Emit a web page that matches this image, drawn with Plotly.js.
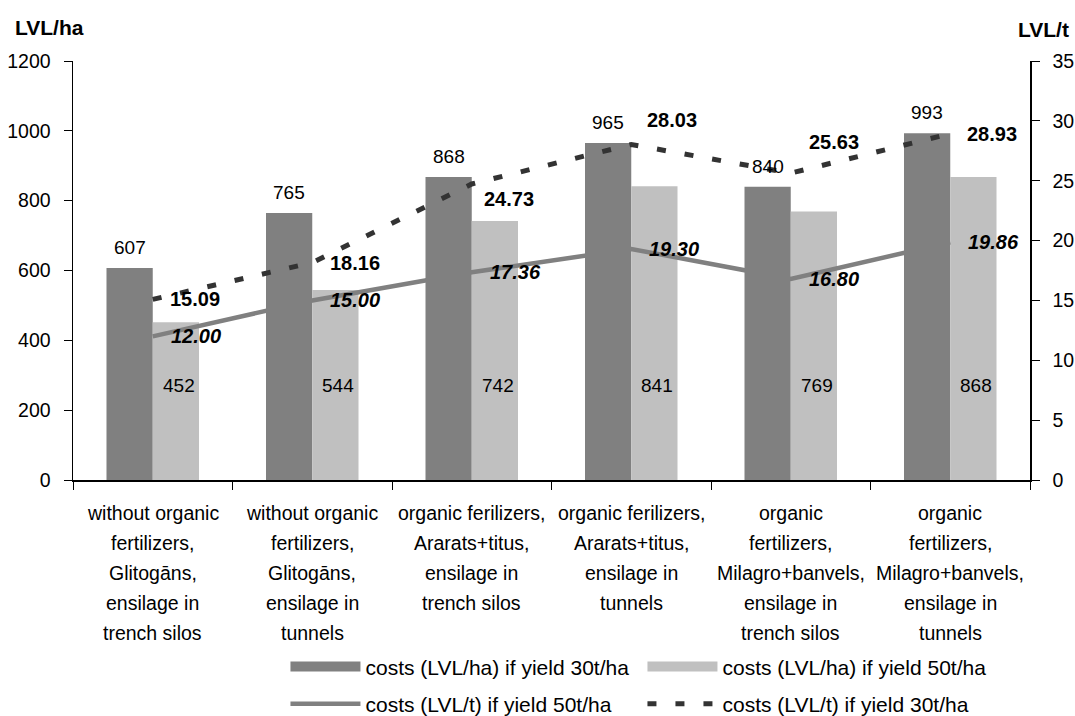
<!DOCTYPE html>
<html>
<head>
<meta charset="utf-8">
<script src="https://cdn.plot.ly/plotly-3.0.1.min.js"></script>
<style>html,body{margin:0;padding:0;background:#fff;}#chart{width:1075px;height:716px;}</style>
</head>
<body>
<div id="chart"></div>
<script>
var categories = [
  "without organic<br>fertilizers,<br>Glitogāns,<br>ensilage in<br>trench silos",
  "without organic<br>fertilizers,<br>Glitogāns,<br>ensilage in<br>tunnels",
  "organic ferilizers,<br>Ararats+titus,<br>ensilage in<br>trench silos",
  "organic ferilizers,<br>Ararats+titus,<br>ensilage in<br>tunnels",
  "organic<br>fertilizers,<br>Milagro+banvels,<br>ensilage in<br>trench silos",
  "organic<br>fertilizers,<br>Milagro+banvels,<br>ensilage in<br>tunnels"
];
var costsHa30 = [607, 765, 868, 965, 840, 993];
var costsHa50 = [452, 544, 742, 841, 769, 868];
var costsT50 = [12.00, 15.00, 17.36, 19.30, 16.80, 19.86];
var costsT30 = [15.09, 18.16, 24.73, 28.03, 25.63, 28.93];
var seriesNames = [
  "costs (LVL/ha) if yield 30t/ha",
  "costs (LVL/ha) if yield 50t/ha",
  "costs (LVL/t) if yield 50t/ha",
  "costs (LVL/t) if yield 30t/ha"
];
var colorDark = "#808080", colorLight = "#c0c0c0", colorDash = "#333333";

var FONT = "Liberation Sans, Arial, sans-serif";

var traces = [
  {type: "bar", name: seriesNames[0], x: categories, y: costsHa30, showlegend: false,
   marker: {color: colorDark}},
  {type: "bar", name: seriesNames[1], x: categories, y: costsHa50, showlegend: false,
   marker: {color: colorLight}},
  // legend proxies for the bars (wide swatches like the original); no visible data
  {type: "scatter", mode: "lines", name: seriesNames[0], x: [categories[0], categories[1]], y: [null, null],
   yaxis: "y2", legend: "legend", line: {color: colorDark, width: 14}, connectgaps: false},
  {type: "scatter", mode: "lines", name: seriesNames[1], x: [categories[0], categories[1]], y: [null, null],
   yaxis: "y2", legend: "legend", line: {color: colorLight, width: 14}, connectgaps: false},
  {type: "scatter", mode: "lines", name: seriesNames[2], x: categories, y: costsT50, legend: "legend2",
   yaxis: "y2", line: {color: colorDark, width: 4.5}},
  {type: "scatter", mode: "lines", name: seriesNames[3], x: categories, y: costsT30, legend: "legend2",
   yaxis: "y2", line: {color: colorDash, width: 5, dash: "9px,19px"}}
];

var annotations = [];
// label placement tweaks (style only)
var dashedYShift = [0, 0, -15, 24, 31, 0];
var dashedXShift = [15, 16, 10, 14, 16, 15];
for (var i = 0; i < categories.length; i++) {
  annotations.push({x: categories[i], y: costsHa30[i], xref: "x", yref: "y",
    text: String(costsHa30[i]), showarrow: false, xshift: -23, yanchor: "bottom", yshift: 8,
    font: {family: FONT, size: 19, color: "#000"}});
  annotations.push({x: categories[i], y: 272, xref: "x", yref: "y",
    text: String(costsHa50[i]), showarrow: false, xshift: 26, yanchor: "middle",
    font: {family: FONT, size: 19, color: "#000"}});
  annotations.push({x: categories[i], y: costsT50[i], xref: "x", yref: "y2",
    text: "<b><i>" + costsT50[i].toFixed(2) + "</i></b>", showarrow: false, xanchor: "left", xshift: 16,
    yanchor: "middle", font: {family: FONT, size: 20, color: "#000"}});
  annotations.push({x: categories[i], y: costsT30[i], xref: "x", yref: "y2",
    text: "<b>" + costsT30[i].toFixed(2) + "</b>", showarrow: false, xanchor: "left", xshift: dashedXShift[i],
    yanchor: "middle", yshift: dashedYShift[i], font: {family: FONT, size: 20, color: "#000"}});
  // category labels, one line each (original uses wide line spacing)
  var lines = categories[i].split("<br>");
  for (var k = 0; k < lines.length; k++) {
    annotations.push({x: categories[i], xref: "x", yref: "paper", y: 0, yanchor: "middle",
      yshift: -(33 + 30 * k), text: lines[k], showarrow: false,
      font: {family: FONT, size: 19.5, color: "#000"}});
  }
}
annotations.push({xref: "paper", yref: "paper", x: -0.063, y: 1.081, xanchor: "left", yanchor: "middle",
  text: "<b>LVL/ha</b>", showarrow: false, font: {family: FONT, size: 21, color: "#000"}});
annotations.push({xref: "paper", yref: "paper", x: 1.043, y: 1.074, xanchor: "right", yanchor: "middle",
  text: "<b>LVL/t</b>", showarrow: false, font: {family: FONT, size: 21, color: "#000"}});

var legendCommon = {orientation: "h", xanchor: "left", x: 0.222, yanchor: "middle",
  entrywidth: 272, itemwidth: 70, traceorder: "normal", bgcolor: "rgba(0,0,0,0)",
  font: {family: FONT, size: 21, color: "#000"}};

var layout = {
  width: 1075, height: 716,
  margin: {l: 73, r: 45, t: 61, b: 236, autoexpand: false},
  paper_bgcolor: "#ffffff", plot_bgcolor: "#ffffff",
  font: {family: FONT, size: 19, color: "#000"},
  barmode: "group", bargap: 0.42, bargroupgap: 0,
  showlegend: true,
  legend: Object.assign({}, legendCommon, {y: -0.446}),
  legend2: Object.assign({}, legendCommon, {y: -0.535}),
  xaxis: {type: "category", showline: true, linecolor: "#000", linewidth: 1.5,
    ticks: "outside", ticklen: 8, tickcolor: "#000", tickson: "boundaries",
    showgrid: false, zeroline: false, showticklabels: false},
  yaxis: {range: [0, 1200], dtick: 200, showline: true, linecolor: "#000", linewidth: 1.5,
    ticks: "outside", ticklen: 8, tickcolor: "#000", showgrid: false, zeroline: false,
    ticklabelstandoff: 9, tickfont: {family: FONT, size: 19.5, color: "#000"}},
  yaxis2: {range: [0, 35], dtick: 5, overlaying: "y", side: "right", showline: true,
    linecolor: "#000", linewidth: 1.5, ticks: "outside", ticklen: 8, tickcolor: "#000",
    showgrid: false, zeroline: false, ticklabelstandoff: 9,
    tickfont: {family: FONT, size: 19.5, color: "#000"}},
  annotations: annotations
};

Plotly.newPlot("chart", traces, layout, {displayModeBar: false, staticPlot: true});
</script>
</body>
</html>
